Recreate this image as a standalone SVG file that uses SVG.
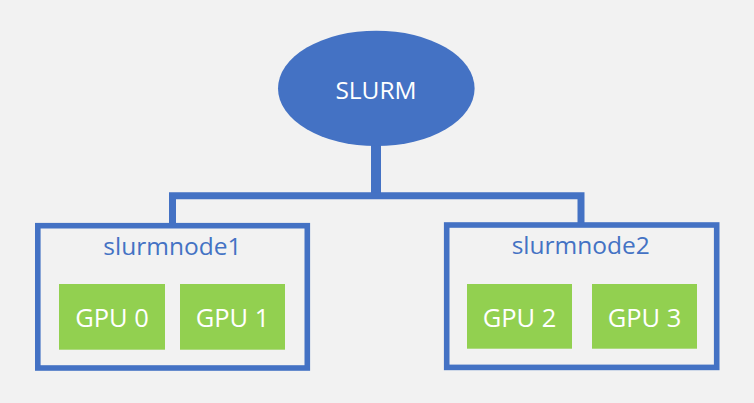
<svg xmlns="http://www.w3.org/2000/svg" width="754" height="403" viewBox="0 0 754 403">
<style>
.bg{fill:#F2F2F2}
.wire{stroke:#4472C4;fill:none}
.host{fill:none;stroke:#4472C4;stroke-width:5.6}
.gpu{fill:#92D050}
.t{font-family:"Open Sans","Liberation Sans",sans-serif;text-anchor:middle}
.w{fill:#FFFFFF;font-size:25.5px}
.s{font-size:24.5px}
.b{fill:#4472C4;font-size:24.5px}
</style>
<rect class="bg" x="0" y="0" width="754" height="403"/>
<g id="connectors">
<line class="wire" x1="376" y1="140" x2="376" y2="196" stroke-width="10"/>
<polyline class="wire" points="172.5,225 172.5,195.8 581,195.8 581,225" stroke-width="7"/>
</g>
<g id="slurm">
<ellipse cx="376.3" cy="88.4" rx="98.3" ry="57.7" fill="#4472C4"/>
<text class="t w s" x="376" y="99">SLURM</text>
</g>
<g id="slurmnode1">
<rect class="host" x="37.8" y="225.7" width="269.5" height="142.3"/>
<text class="t b" x="172.4" y="255">slurmnode1</text>
<g id="gpu0">
<rect class="gpu" x="59" y="284" width="106" height="65.7"/>
<text class="t w" x="112" y="327">GPU 0</text>
</g>
<g id="gpu1">
<rect class="gpu" x="180" y="284" width="105" height="65.7"/>
<text class="t w" x="232.5" y="327">GPU 1</text>
</g>
</g>
<g id="slurmnode2">
<rect class="host" x="446.7" y="225" width="270" height="142.4"/>
<text class="t b" x="580.7" y="254">slurmnode2</text>
<g id="gpu2">
<rect class="gpu" x="467" y="284" width="105" height="64.7"/>
<text class="t w" x="519.5" y="326.5">GPU 2</text>
</g>
<g id="gpu3">
<rect class="gpu" x="592" y="284" width="105" height="64.7"/>
<text class="t w" x="644.5" y="326.5">GPU 3</text>
</g>
</g>
</svg>
